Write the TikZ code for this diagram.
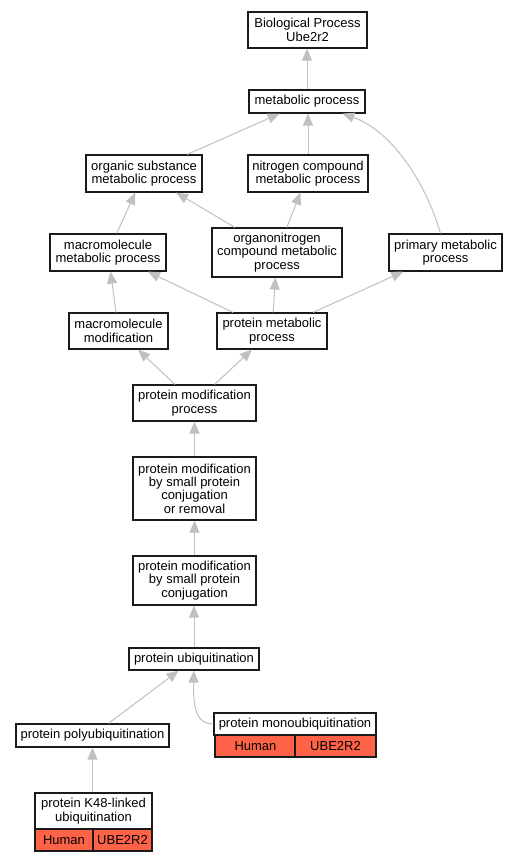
\documentclass[tikz,border=0pt]{standalone}
\usepackage{fontspec}
\setmainfont{Liberation Sans}
\usetikzlibrary{arrows.meta}
\definecolor{edgegray}{HTML}{C0C0C0}
\definecolor{boxline}{HTML}{1A1A1A}
\definecolor{hitred}{HTML}{FF6347}
\begin{document}
\begin{tikzpicture}[x=1pt,y=-1pt,
  gobox/.style={draw=boxline, line width=1.2pt, fill=white, inner sep=0pt, align=center,
    font=\fontsize{13}{13.3}\selectfont},
  cell/.style={gobox, fill=hitred},
  edge/.style={draw=edgegray, line width=1pt, -{Triangle[length=12pt,width=10pt,fill=edgegray]}}
]
\useasboundingbox (0,0) rectangle (517,861);
\fill[white] (0,0) rectangle (517,861);

\node[gobox, minimum width=119pt, minimum height=36pt] (bp) at (307.5,30) {Biological Process\\Ube2r2};
\node[gobox, minimum width=116pt, minimum height=23pt] (mp) at (307,101.5) {metabolic process};
\node[gobox, minimum width=116pt, minimum height=37pt] (os) at (144,173.5) {organic substance\\metabolic process};
\node[gobox, minimum width=120pt, minimum height=37pt] (nc) at (308,173.5) {nitrogen compound\\metabolic process};
\node[gobox, minimum width=116pt, minimum height=37pt] (mm) at (108,252.5) {macromolecule\\metabolic process};
\node[gobox, minimum width=130pt, minimum height=49pt] (om) at (277,252.5) {organonitrogen\\compound metabolic\\process};
\node[gobox, minimum width=113pt, minimum height=37pt] (pr) at (445.5,252.5) {primary metabolic\\process};
\node[gobox, minimum width=99pt, minimum height=36pt] (mmod) at (118.5,331) {macromolecule\\modification};
\node[gobox, minimum width=110pt, minimum height=36pt] (pm) at (272,331) {protein metabolic\\process};
\node[gobox, minimum width=123pt, minimum height=36pt] (pmp) at (194.5,403) {protein modification\\process};
\node[gobox, minimum width=123pt, minimum height=63pt] (pmr) at (194.5,488.5) {protein modification\\by small protein\\conjugation\\or removal};
\node[gobox, minimum width=123pt, minimum height=49pt] (pmc) at (194.5,580.5) {protein modification\\by small protein\\conjugation};
\node[gobox, minimum width=130pt, minimum height=22pt] (pu) at (194,659) {protein ubiquitination};
\node[gobox, minimum width=153pt, minimum height=23pt] (poly) at (92.5,735.5) {protein polyubiquitination};

\node[gobox, minimum width=162pt, minimum height=22pt] (mono) at (295,724) {protein monoubiquitination};
\node[cell, minimum width=81pt, minimum height=22pt] (monoh) at (255.5,746) {Human};
\node[cell, minimum width=81pt, minimum height=22pt] (monog) at (335.5,746) {UBE2R2};

\node[gobox, minimum width=117pt, minimum height=36pt] (k48) at (93.5,811) {protein K48-linked\\ubiquitination};
\node[cell, minimum width=58pt, minimum height=22pt] (k48h) at (64,840) {Human};
\node[cell, minimum width=59pt, minimum height=22pt] (k48g) at (122.5,840) {UBE2R2};

\draw[edge] (mp.north) -- (mp.north |- bp.south);
\draw[edge] (os) -- (mp);
\draw[edge] (nc.north) -- (nc.north |- mp.south);
\draw[edge] (pr.north) ++(-5,0) .. controls (425,180) and (390,130) .. (mp);
\draw[edge] (mm) -- (os);
\draw[edge] (om) -- (os);
\draw[edge] (om) -- (nc);
\draw[edge] (mmod) -- (mm);
\draw[edge] (pm) -- (mm);
\draw[edge] (pm) -- (om);
\draw[edge] (pm) -- (pr);
\draw[edge] (pmp) -- (mmod);
\draw[edge] (pmp) -- (pm);
\draw[edge] (pmr) -- (pmp);
\draw[edge] (pmc) -- (pmr);
\draw[edge] (pu.north) -- (pu.north |- pmc.south);
\draw[edge] (poly) -- (pu);
\draw[edge] (mono.west) .. controls (198,724) and (193,712) .. (pu);
\draw[edge] (poly.south |- k48.north) -- (poly.south);
\end{tikzpicture}
\end{document}
